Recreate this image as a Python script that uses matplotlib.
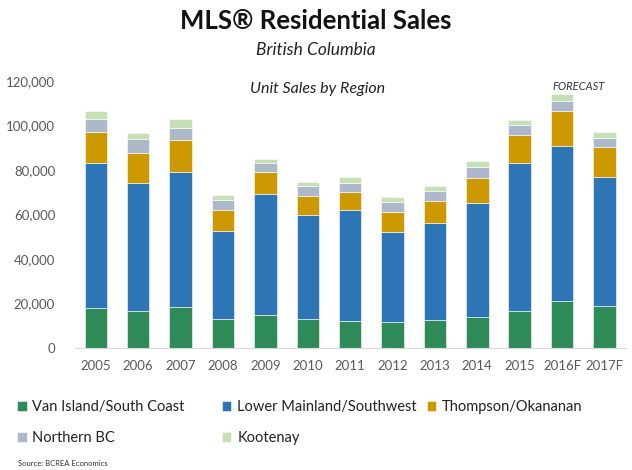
import numpy as np
import matplotlib
matplotlib.use('Agg')
from matplotlib import pyplot as plt

plt.rcParams['font.family'] = ['Lato', 'DejaVu Sans']

years = ['2005', '2006', '2007', '2008', '2009', '2010', '2011',
         '2012', '2013', '2014', '2015', '2016F', '2017F']

# unit sales by region
van_island = [17700, 16600, 18400, 13000, 14800, 12800, 12200,
              11500, 12300, 13700, 16400, 21100, 18900]
lower_mainland = [65400, 57600, 60400, 39600, 54400, 47000, 49700,
                  40500, 44000, 51200, 66500, 69500, 57800]
thompson = [13700, 13400, 14500, 9300, 9600, 8400, 8200,
            9100, 9800, 11500, 12600, 15800, 13500]
northern_bc = [6000, 6100, 5700, 4500, 4100, 4500, 4200,
               4400, 4500, 4800, 4600, 4600, 4300]
kootenay = [3600, 2900, 3800, 2500, 1800, 1900, 2300,
            2200, 2200, 2800, 2500, 2900, 2600]

series = [
    ('Van Island/South Coast', van_island, '#2e8b57'),
    ('Lower Mainland/Southwest', lower_mainland, '#2e75b6'),
    ('Thompson/Okananan', thompson, '#cc9900'),
    ('Northern BC', northern_bc, '#adb9ca'),
    ('Kootenay', kootenay, '#c5e0b4'),
]

fig = plt.figure(figsize=(6.32, 4.70), dpi=100)
ax = fig.add_axes([0.118, 0.26, 0.872, 0.568])

x = np.arange(len(years))
bottom = np.zeros(len(years))
handles = {}
for name, vals, color in series:
    vals = np.array(vals, dtype=float)
    bars = ax.bar(x, vals, width=0.53, bottom=bottom, color=color,
                  edgecolor='white', linewidth=0.4, label=name)
    handles[name] = bars
    bottom += vals

ax.set_xlim(-0.5, len(years) - 0.5)
ax.set_ylim(0, 120000)
ax.set_yticks(np.arange(0, 120001, 20000))
ax.yaxis.set_major_formatter(matplotlib.ticker.FuncFormatter(lambda v, p: f'{int(v):,}'))
ax.set_xticks(x)
ax.set_xticklabels(years)
ax.tick_params(axis='both', length=0, labelsize=9.5, colors='#595959')
ax.tick_params(axis='y', pad=14)
ax.tick_params(axis='x', pad=9)
for side in ['top', 'right', 'left']:
    ax.spines[side].set_visible(False)
ax.spines['bottom'].set_color('#d9d9d9')

fig.text(0.5, 0.955, 'MLS® Residential Sales', ha='center', va='center',
         fontsize=18.5, fontweight='bold', color='#111111')
fig.text(0.5, 0.893, 'British Columbia', ha='center', va='center',
         fontsize=12.5, style='italic', color='#222222')
fig.text(0.502, 0.81, 'Unit Sales by Region', ha='center', va='center',
         fontsize=11.5, style='italic', color='#222222')
fig.text(0.915, 0.815, 'FORECAST', ha='center', va='center',
         fontsize=8, style='italic', color='#333333')

cols = [(['Van Island/South Coast', 'Northern BC'], 0.027),
        (['Lower Mainland/Southwest', 'Kootenay'], 0.351),
        (['Thompson/Okananan'], 0.675)]
for names, xpos in cols:
    leg = fig.legend([handles[n] for n in names], names, loc='upper left',
                     bbox_to_anchor=(xpos, 0.148), frameon=False,
                     fontsize=10.5, handlelength=0.65, handleheight=0.65,
                     handletextpad=0.4, labelspacing=1.15, borderaxespad=0,
                     borderpad=0)
    for t in leg.get_texts():
        t.set_color('#222222')

fig.text(0.028, 0.008, 'Source: BCREA Economics', fontsize=5.5, color='#333333')

fig.savefig('out.png', dpi=100)
